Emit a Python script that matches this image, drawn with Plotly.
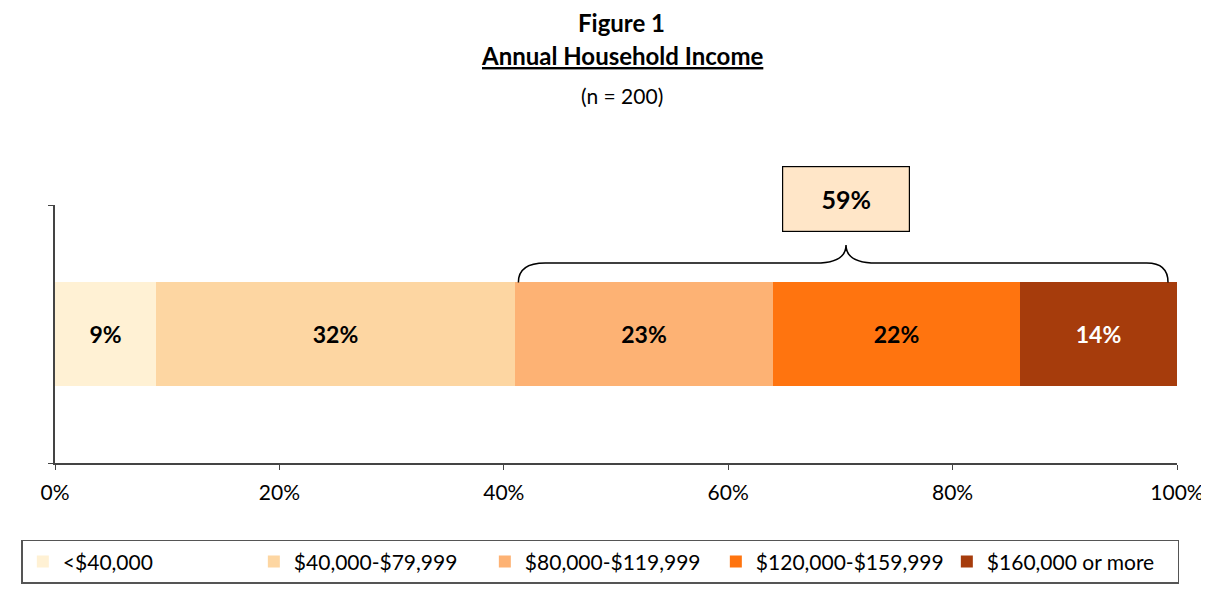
import plotly.graph_objects as go

categories = ["<$40,000", "$40,000-$79,999", "$80,000-$119,999", "$120,000-$159,999", "$160,000 or more"]
shares = [9, 32, 23, 22, 14]
colors = ["#FFF1D4", "#FDD6A2", "#FDB274", "#FF740F", "#A63C0C"]
text_colors = ["black", "black", "black", "black", "white"]
x_ticks = [0, 20, 40, 60, 80, 100]

# the bracket covers the three top income groups
top_share = sum(shares[2:])
brace_x0 = sum(shares[:2])
brace_x1 = sum(shares)

FONT = "Lato, Open Sans, sans-serif"

fig = go.Figure()
for cat, val, col, tc in zip(categories, shares, colors, text_colors):
    fig.add_trace(go.Bar(
        y=[0.5], x=[val], name=cat, orientation="h", width=0.4,
        marker=dict(color=col, line=dict(width=0)),
        text=[f"<b>{val}%</b>"], textposition="inside", insidetextanchor="middle",
        textfont=dict(size=23, color=tc, family=FONT), hoverinfo="skip",
    ))

# curly brace over the bar
r = 2.7
mid = (brace_x0 + brace_x1) / 2
yb, yh, yp = 0.70, 0.775, 0.845
path = (f"M {brace_x0 + 0.3},{yb} Q {brace_x0 + 0.3},{yh} {brace_x0 + r},{yh} "
        f"L {mid - r},{yh} Q {mid},{yh} {mid},{yp} "
        f"Q {mid},{yh} {mid + r},{yh} L {brace_x1 - r},{yh} "
        f"Q {brace_x1 - 0.8},{yh} {brace_x1 - 0.8},{yb}")
fig.add_shape(type="path", path=path, xref="x", yref="y",
              line=dict(color="black", width=1.5))

fig.add_annotation(x=mid, y=1.023, xref="x", yref="paper", yanchor="middle",
                   text=f"<b>{top_share}%</b>",
                   showarrow=False, width=124, height=62, bgcolor="#FFE6C8",
                   bordercolor="black", borderwidth=1.2,
                   font=dict(size=25, color="black", family=FONT))

# titles
fig.add_annotation(x=0.505, y=1.709, xref="paper", yref="paper", yanchor="middle",
                   text="<b>Figure 1</b>",
                   showarrow=False, font=dict(size=24, color="black", family=FONT))
fig.add_annotation(x=0.505, y=1.581, xref="paper", yref="paper", yanchor="middle",
                   text="<b><u>Annual Household Income</u></b>",
                   showarrow=False, font=dict(size=24, color="black", family=FONT))
fig.add_annotation(x=0.505, y=1.426, xref="paper", yref="paper", yanchor="middle",
                   text="(n = 200)",
                   showarrow=False, font=dict(size=21, color="black", family=FONT))

# the page body has an 8px margin, so the figure is 8px smaller than the window
fig.update_layout(
    width=1201, height=585,
    margin=dict(l=47, r=32, t=197, b=130, autoexpand=False),
    barmode="stack", bargap=0,
    plot_bgcolor="white", paper_bgcolor="white",
    font=dict(family=FONT, size=21, color="black"),
    showlegend=True,
    legend=dict(orientation="h", x=-0.03, xanchor="left", y=-0.298, yanchor="top",
                bordercolor="#555555", borderwidth=1.5, traceorder="normal",
                font=dict(size=21, color="black", family=FONT),
                entrywidth=186, itemwidth=30),
    xaxis=dict(range=[0, 100], tickvals=x_ticks, ticktext=[f"{t}%" for t in x_ticks],
               showgrid=False, zeroline=False, showline=True, linecolor="#444444",
               linewidth=2, ticks="outside", ticklen=5, tickcolor="#444444",
               ticklabelstandoff=5,
               tickfont=dict(size=21, color="black"), automargin=False),
    yaxis=dict(range=[0, 1], tickvals=[0, 1], showticklabels=False, showgrid=False,
               zeroline=False, showline=True, linecolor="#444444", linewidth=2,
               ticks="outside", ticklen=5, tickcolor="#444444", automargin=False),
)

fig.write_html("out.html")
